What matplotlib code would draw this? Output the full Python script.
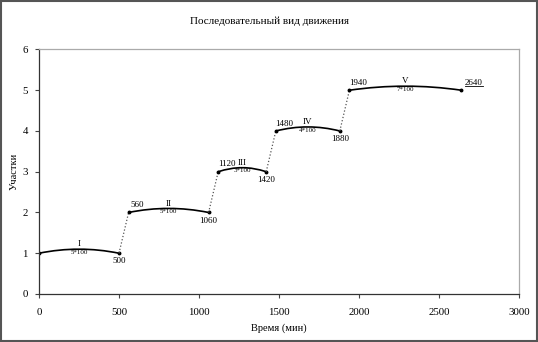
import matplotlib
matplotlib.use("Agg")
import matplotlib.pyplot as plt
from matplotlib.path import Path
from matplotlib.patches import PathPatch, Rectangle
from matplotlib.lines import Line2D

plt.rcParams['font.family'] = ['Liberation Serif', 'DejaVu Serif']

# stages of the sequential movement
stage_names = ['I', 'II', 'III', 'IV', 'V']
stage_start = [0, 560, 1120, 1480, 1940]
stage_end = [500, 1060, 1420, 1880, 2640]
stage_level = [1, 2, 3, 4, 5]
stage_calc = ['5*100', '5*100', '3*100', '4*100', '7*100']
arc_rise = 0.1  # height of curve above the level at its middle

fig = plt.figure(figsize=(5.38, 3.42), dpi=100)
ax = fig.add_axes([0.0725, 0.1404, 0.8922, 0.7149])

for i in range(len(stage_names)):
    x0, x1, lvl = stage_start[i], stage_end[i], stage_level[i]
    xm = (x0 + x1) / 2
    # quadratic bezier passing through (xm, lvl + arc_rise)
    verts = [(x0, lvl), (xm, lvl + 2 * arc_rise), (x1, lvl)]
    path = Path(verts, [Path.MOVETO, Path.CURVE3, Path.CURVE3])
    ax.add_patch(PathPatch(path, facecolor='none', edgecolor='black', lw=1.2))
    ax.plot([x0, x1], [lvl, lvl], 'o', color='black', ms=1.8)

    ax.text(xm, lvl + arc_rise + 0.02, stage_names[i], ha='center', va='bottom', fontsize=6.5)
    ax.text(xm, lvl + arc_rise - 0.02, stage_calc[i], ha='center', va='top', fontsize=5)

    # start label above, end label below
    if i > 0:
        ax.annotate(str(x0), (x0, lvl), xytext=(6, 2.5), textcoords='offset points',
                    ha='center', va='bottom', fontsize=6.5)
    if i < len(stage_names) - 1:
        ax.annotate(str(x1), (x1, lvl), xytext=(0, -3), textcoords='offset points',
                    ha='center', va='top', fontsize=6.5)
        # transfer to next stage
        ax.plot([x1, stage_start[i + 1]], [lvl, stage_level[i + 1]], ':',
                color='#555555', lw=0.9)
    else:
        last = ax.annotate(str(x1), (x1, lvl), xytext=(9, 2.5), textcoords='offset points',
                           ha='center', va='bottom', fontsize=6.5)

ax.set_xlim(0, 3000)
ax.set_ylim(0, 6)
ax.set_xticks(range(0, 3001, 500))
ax.set_yticks(range(0, 7))
ax.tick_params(labelsize=7.8, length=3, width=0.8, color='#444444', pad=7)
ax.tick_params(axis='y', pad=5)
for s in ['left', 'bottom']:
    ax.spines[s].set_color('#333333')
    ax.spines[s].set_linewidth(0.9)
for s in ['top', 'right']:
    ax.spines[s].set_color('#aaaaaa')
    ax.spines[s].set_linewidth(0.9)

ax.set_xlabel('Время (мин)', fontsize=7.5, labelpad=5)
ax.set_ylabel('Участки', fontsize=7.5)
ax.yaxis.set_label_coords(-0.042, 0.5)
fig.suptitle('Последовательный вид движения', fontsize=8, y=0.953)

# outer chart border
fig.patches.append(Rectangle((0.002, 0.003), 0.996, 0.994, transform=fig.transFigure,
                             fill=False, edgecolor='#555555', lw=1.5))

# underline the last label as in the source
fig.canvas.draw()
bb = last.get_window_extent().transformed(fig.transFigure.inverted())
fig.add_artist(Line2D([bb.x0, bb.x1], [bb.y0 + 0.002, bb.y0 + 0.002],
                      transform=fig.transFigure, color='black', lw=0.6))

fig.savefig('out.png', dpi=100)
